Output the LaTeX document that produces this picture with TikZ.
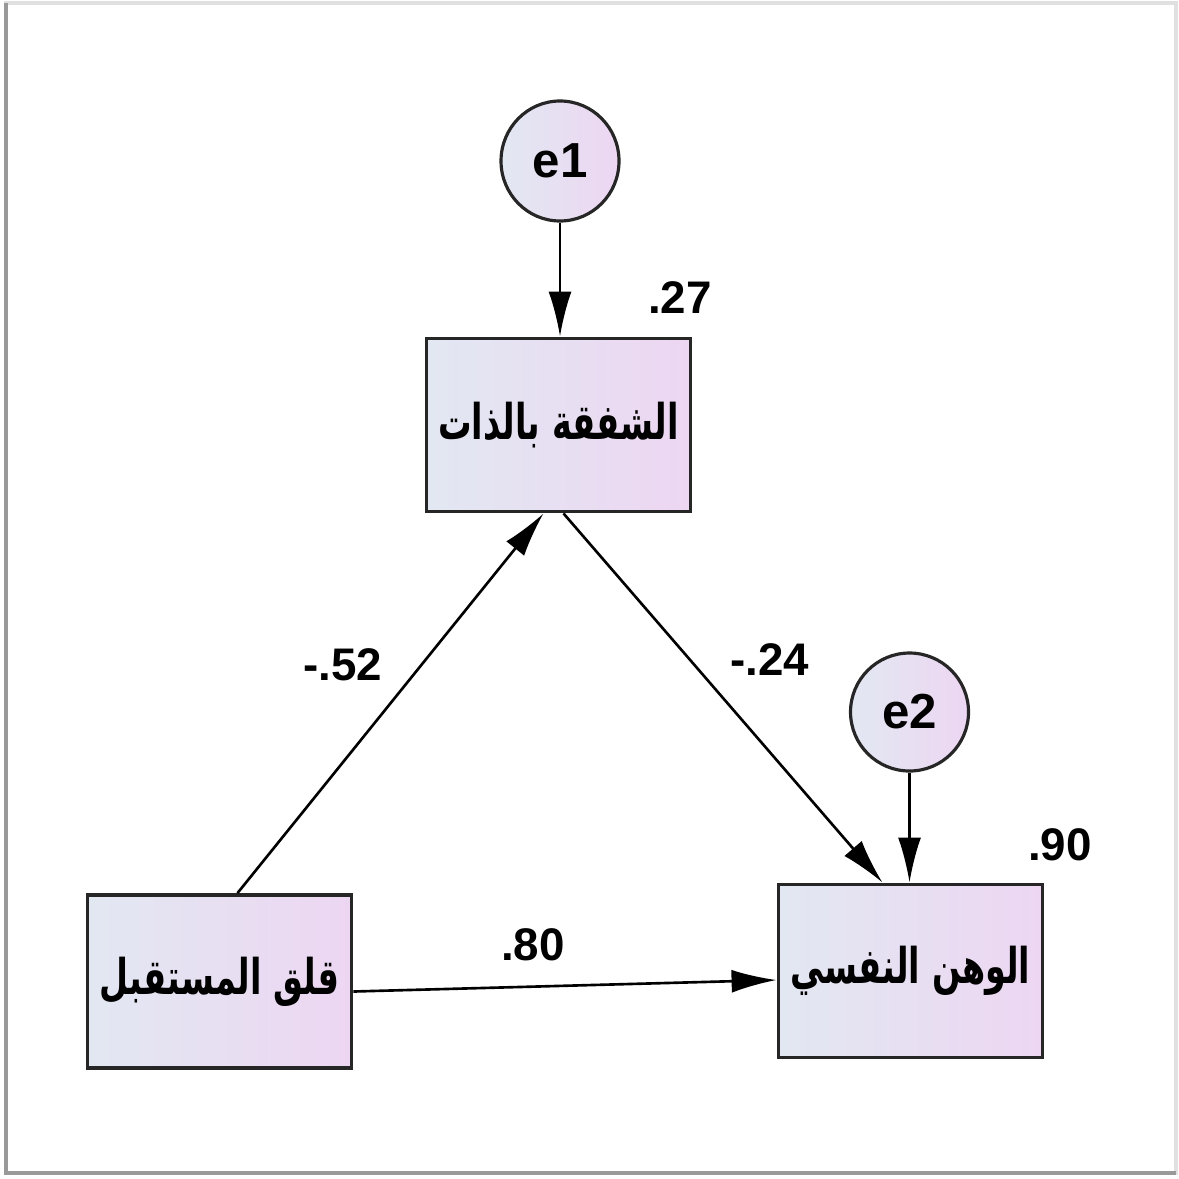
\documentclass[tikz,border=0pt]{standalone}
\usepackage{fontspec}
\setmainfont{Liberation Sans}
\newfontfamily\arabicfont[Script=Arabic]{DejaVu Sans}
\TeXXeTstate=1
\usetikzlibrary{arrows.meta,shapes.geometric}
\definecolor{sem_blue}{RGB}{226, 232, 242}
\definecolor{sem_pink}{RGB}{237, 214, 242}
\newcommand{\artext}[1]{\scalebox{0.68}[1]{\arabicfont\bfseries\beginR #1\endR}}
\tikzstyle{box}=[rectangle,draw=black!85,line width=1.1pt,left color=sem_blue,
  right color=sem_pink,minimum width=2.64cm,minimum height=1.73cm,inner sep=2pt,
  font=\fontsize{14}{16}\selectfont]
\tikzstyle{err}=[ellipse,draw=black!85,line width=0.9pt,left color=sem_blue,
  right color=sem_pink,minimum width=1.18cm,minimum height=1.2cm,inner sep=1pt,
  font=\bfseries\fontsize{14}{16}\selectfont]
\tikzstyle{coef}=[inner sep=1pt,font=\bfseries\fontsize{13}{15}\selectfont]
\tikzstyle{arr}=[line width=0.75pt,-{Latex[length=4.5mm,width=2.3mm]}]
\tikzstyle{none}=[]

\begin{document}
\begin{tikzpicture}
    \useasboundingbox (0, 0) rectangle (11.79, -11.78);
    % frame
    \draw [black!12, line width=1pt] (0.06, -0.03) rectangle (11.76, -11.73);
    \draw [black!40, line width=1.2pt] (0.06, -0.03) -- (0.06, -11.73) -- (11.76, -11.73);
    % variables
    \node [style=box] (0) at (5.585, -4.25) {\artext{الشفقة بالذات}};
    \node [style=box] (1) at (2.195, -9.815) {\artext{قلق المستقبل}};
    \node [style=box] (2) at (9.105, -9.71) {\artext{الوهن النفسي}};
    \node [style=err] (3) at (5.60, -1.61) {e1};
    \node [style=err, minimum height=1.18cm] (4) at (9.095, -7.12) {e2};
    % coefficients
    \node [style=coef] (5) at (6.80, -2.98) {.27};
    \node [style=coef] (6) at (10.60, -8.45) {.90};
    \node [style=coef] (7) at (3.43, -6.65) {-.52};
    \node [style=coef] (8) at (7.70, -6.60) {-.24};
    \node [style=coef] (9) at (5.33, -9.45) {.80};
    % paths
    \draw [style=arr] (3) to (3 |- 0.north);
    \draw [style=arr] (4) to (4 |- 2.north);
    \draw [style=arr] ([xshift=0.18cm]1.north) to ([xshift=-0.15cm]0.south);
    \draw [style=arr] ([xshift=0.05cm]0.south) to ([xshift=-0.28cm]2.north);
    \draw [style=arr] ([yshift=-0.10cm]1.east) to ([yshift=-0.09cm]2.west);
\end{tikzpicture}
\end{document}
